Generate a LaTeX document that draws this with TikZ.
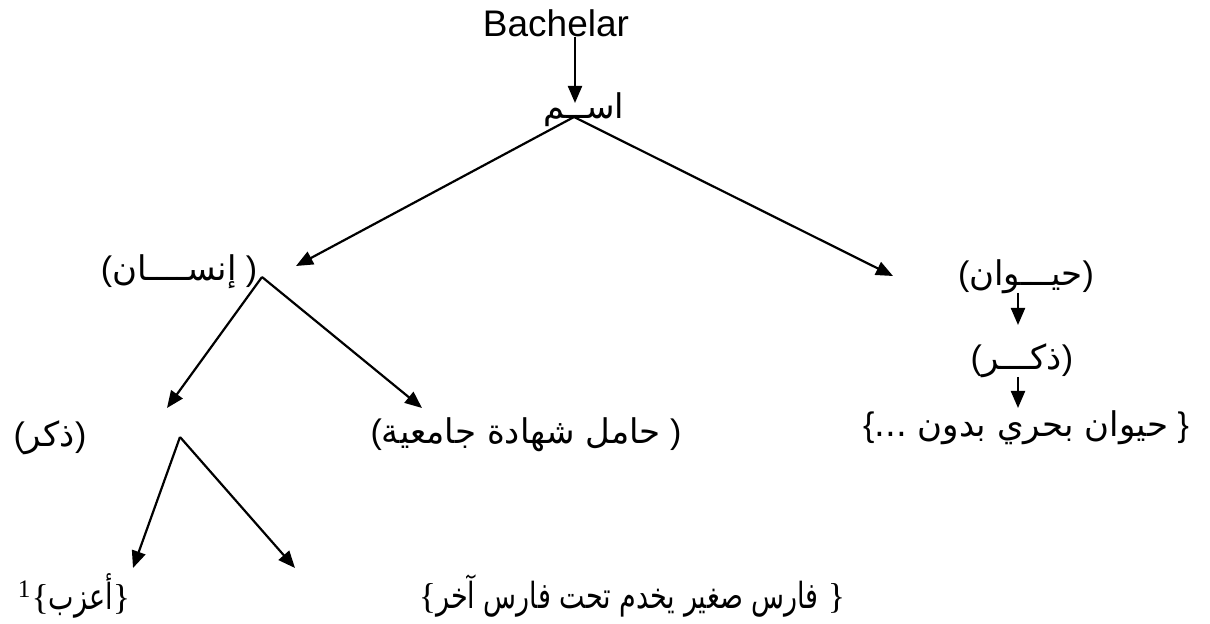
\documentclass[tikz,border=0pt]{standalone}
\usepackage{fontspec}
\setmainfont{Liberation Sans}
\newfontfamily\arabicfont[Script=Arabic]{DejaVu Sans}
\newfontfamily\arabicnarrow[Script=Arabic,FakeStretch=0.75]{DejaVu Sans}
\newfontfamily\timesfont{Liberation Serif}
\TeXXeTstate=1
\usetikzlibrary{arrows.meta}
% Arabic run, right to left
\newcommand{\ar}[1]{{\arabicfont\beginR #1\endR}}
\newcommand{\arn}[1]{{\arabicnarrow\beginR #1\endR}}
\begin{document}
\begin{tikzpicture}[
    x=0.5pt, y=-0.5pt,
    % Styles
    latin/.style={% For the English word on top
        font=\fontsize{18.5}{22}\selectfont,
        inner sep=0pt,
        },
    word/.style={% For the Arabic terms
        font=\fontsize{17}{20}\selectfont,
        inner sep=0pt,
        },
    leaf/.style={% For the bottom row
        font=\fontsize{18}{21}\timesfont,
        inner sep=0pt,
        },
    ArrowT/.style={% Arrows with a filled head
        -{Triangle[length=8.5pt, width=7pt]},
        line width=1.1pt,
        },
    ]
    \useasboundingbox (0,0) rectangle (1210,624);

    %Start drawing the thing...
    % Top
    \node [latin] (bach) at (556,23) {Bachelar};
    \node [word] (ism) at (584,110) {\ar{اســم}};
    \coordinate (ismin) at (575,103);
    \coordinate (fork0) at (574,117);

    % Second row
    \node [word] (insan) at (179,272) {(\ar{إنســــان}\ )};
    \node [word] (hayawan) at (1026,277) {(\ar{حيـــوان})};
    \coordinate (insanin) at (296,266);
    \coordinate (hayawanin) at (893,276);
    \coordinate (fork1) at (262,277);

    % Third row
    \node [word] (dhakarA) at (50,438) {(\ar{ذكر})};
    \node [word] (hamil) at (526,435) {(\ar{حامل شهادة جامعية}\ )};
    \node [word] (dhakarB) at (1022,361) {(\ar{ذكـــر})};
    \node [word] (bahri) at (1026,428) {\{\ar{حيوان بحري بدون ...}\ \}};
    \coordinate (dhakarin) at (167,408);
    \coordinate (hamilin) at (422,408);
    \coordinate (fork2) at (180,437);

    % Bottom row
    \node [leaf] (azab) at (74,596) {\textsuperscript{1}\{\arn{أعزب}\}};
    \node [leaf] (faris) at (632,596) {\{\arn{فارس صغير يخدم تحت فارس آخر}\ \}};
    \coordinate (azabin) at (133,568);
    \coordinate (farisin) at (295,568);

    % Draw Arrows
    \draw [ArrowT] (bach.south -| ismin) -- (ismin);
    \draw [ArrowT] (fork0) -- (insanin);
    \draw [ArrowT] (fork0) -- (hayawanin);
    \draw [ArrowT] (fork1) -- (dhakarin);
    \draw [ArrowT] (fork1) -- (hamilin);
    \draw [ArrowT] (fork2) -- (azabin);
    \draw [ArrowT] (fork2) -- (farisin);
    % right branch
    \draw [ArrowT] (1018,293) -- (1018,325);
    \draw [ArrowT] (1018,377) -- (1018,408);

\end{tikzpicture}
\end{document}
